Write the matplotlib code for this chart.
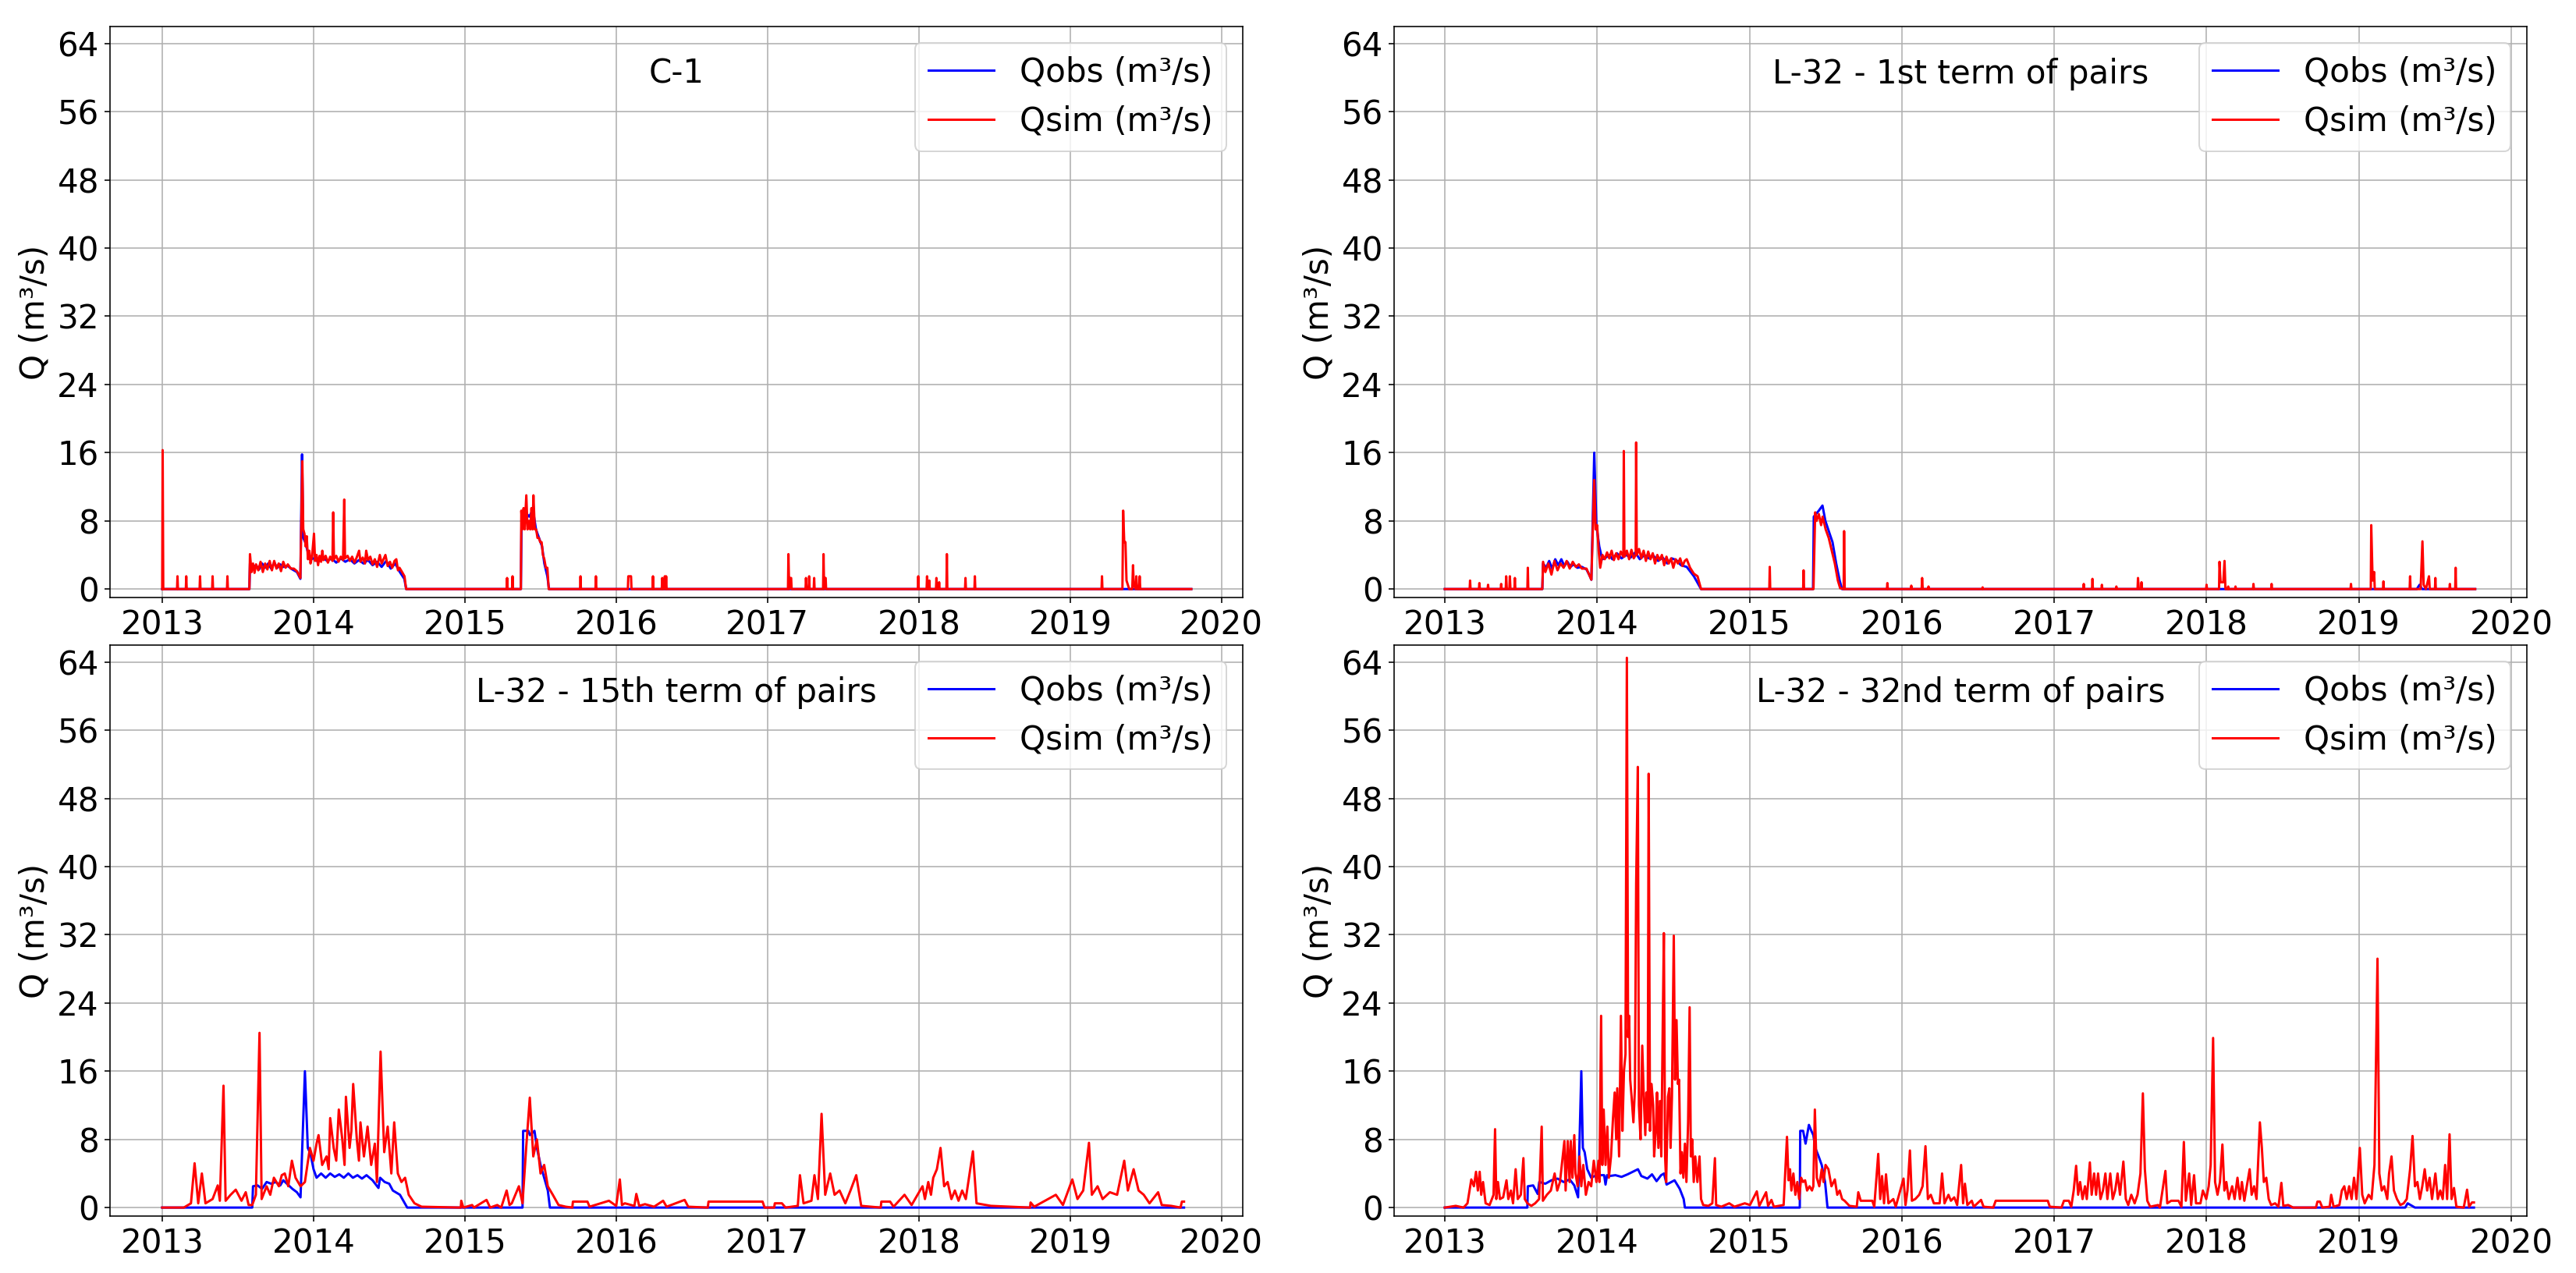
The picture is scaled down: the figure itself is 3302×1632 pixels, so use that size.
import matplotlib
matplotlib.use("Agg")
import matplotlib.pyplot as plt

# Daily discharge as (decimal year, Q m3/s) break points

c1_obs = [(2013.000, 0), (2013.576, 0), (2013.580, 3.0), (2013.600, 2.5), (2013.620, 2.8), (2013.640, 2.3),
          (2013.660, 3.0), (2013.680, 2.5), (2013.700, 3.0), (2013.720, 2.4), (2013.740, 3.1), (2013.760, 2.5),
          (2013.780, 2.9), (2013.800, 2.6), (2013.830, 2.7), (2013.860, 2.3), (2013.890, 2.0), (2013.913, 1.2),
          (2013.924, 15.8), (2013.932, 6.0), (2013.945, 5.5), (2013.960, 4.5), (2013.980, 3.5), (2014.000, 3.6),
          (2014.030, 3.2), (2014.060, 3.7), (2014.090, 3.3), (2014.120, 3.6), (2014.150, 3.1), (2014.180, 3.6),
          (2014.210, 3.2), (2014.240, 3.5), (2014.270, 3.0), (2014.300, 3.4), (2014.330, 3.0), (2014.360, 3.4),
          (2014.390, 2.8), (2014.420, 3.2), (2014.450, 2.6), (2014.480, 3.3), (2014.510, 2.4), (2014.540, 3.0),
          (2014.570, 2.0), (2014.600, 1.2), (2014.612, 0),
          (2015.370, 0), (2015.375, 8.5), (2015.400, 9.0), (2015.425, 8.5), (2015.450, 9.3), (2015.470, 7.0),
          (2015.490, 6.0), (2015.510, 5.0), (2015.525, 3.0), (2015.545, 1.5), (2015.556, 0), (2019.800, 0)]

c1_sim = [(2013.000, 0), (2013.003, 16.3), (2013.007, 0),
          (2013.098, 0), (2013.101, 1.5), (2013.104, 0), (2013.156, 0), (2013.159, 1.5), (2013.162, 0),
          (2013.247, 0), (2013.250, 1.5), (2013.253, 0), (2013.330, 0), (2013.333, 1.5), (2013.336, 0),
          (2013.428, 0), (2013.431, 1.5), (2013.434, 0),
          (2013.576, 0), (2013.580, 4.1), (2013.590, 2.0), (2013.600, 3.0), (2013.610, 1.9), (2013.620, 2.9),
          (2013.635, 2.2), (2013.650, 3.2), (2013.665, 2.0), (2013.680, 3.0), (2013.695, 2.3), (2013.710, 3.3),
          (2013.725, 2.2), (2013.740, 3.3), (2013.755, 2.4), (2013.770, 3.0), (2013.785, 2.1), (2013.800, 3.2),
          (2013.815, 2.5), (2013.830, 2.9), (2013.850, 2.4), (2013.870, 2.4), (2013.890, 2.1), (2013.905, 1.6),
          (2013.913, 1.3), (2013.926, 15.0), (2013.932, 7.0), (2013.940, 6.5), (2013.948, 5.0), (2013.955, 6.2),
          (2013.963, 3.5), (2013.972, 4.5), (2013.980, 3.0), (2013.990, 3.8), (2014.003, 6.5), (2014.010, 3.3),
          (2014.020, 4.0), (2014.030, 2.8), (2014.040, 3.9), (2014.050, 3.2), (2014.058, 4.5), (2014.066, 3.4),
          (2014.080, 3.9), (2014.095, 3.1), (2014.110, 3.8), (2014.125, 3.3), (2014.130, 9.0), (2014.135, 3.5),
          (2014.150, 3.9), (2014.165, 3.2), (2014.180, 3.8), (2014.195, 3.4), (2014.203, 10.5), (2014.208, 3.6),
          (2014.225, 3.9), (2014.240, 3.3), (2014.255, 3.8), (2014.270, 3.1), (2014.285, 3.7), (2014.301, 4.5),
          (2014.310, 3.2), (2014.325, 3.7), (2014.340, 3.0), (2014.348, 4.5), (2014.360, 3.4), (2014.375, 3.8),
          (2014.390, 2.9), (2014.405, 3.5), (2014.420, 2.6), (2014.438, 4.0), (2014.450, 3.0), (2014.465, 3.6),
          (2014.475, 4.0), (2014.490, 2.7), (2014.505, 3.2), (2014.520, 2.5), (2014.535, 3.3), (2014.547, 3.5),
          (2014.558, 2.2), (2014.568, 2.5), (2014.585, 2.0), (2014.601, 1.5), (2014.612, 0),
          (2015.276, 0), (2015.279, 1.3), (2015.282, 0), (2015.312, 0), (2015.315, 1.5), (2015.318, 0),
          (2015.370, 0), (2015.373, 9.2), (2015.380, 7.0), (2015.388, 9.5), (2015.395, 7.0), (2015.406, 11.0),
          (2015.414, 7.0), (2015.424, 8.0), (2015.432, 7.0), (2015.440, 9.5), (2015.447, 7.0), (2015.453, 11.0),
          (2015.462, 7.0), (2015.471, 7.0), (2015.480, 6.0), (2015.489, 6.0), (2015.498, 5.5), (2015.507, 5.5),
          (2015.516, 4.0), (2015.525, 3.5), (2015.535, 2.5), (2015.545, 2.5), (2015.554, 0),
          (2015.761, 0), (2015.764, 1.5), (2015.767, 0), (2015.863, 0), (2015.866, 1.5), (2015.869, 0),
          (2016.077, 0), (2016.080, 1.5), (2016.089, 1.5), (2016.098, 1.5), (2016.101, 0),
          (2016.240, 0), (2016.243, 1.5), (2016.246, 0), (2016.301, 0), (2016.304, 1.3), (2016.307, 0),
          (2016.318, 0), (2016.321, 1.5), (2016.327, 0), (2016.330, 1.5), (2016.333, 0),
          (2017.135, 0), (2017.138, 4.1), (2017.143, 0), (2017.148, 1.3), (2017.156, 1.3), (2017.159, 0),
          (2017.251, 0), (2017.254, 1.3), (2017.258, 0), (2017.272, 0), (2017.275, 1.5), (2017.278, 0),
          (2017.305, 0), (2017.308, 1.3), (2017.311, 0),
          (2017.367, 0), (2017.370, 4.1), (2017.374, 0), (2017.380, 1.3), (2017.384, 1.3), (2017.387, 0),
          (2017.993, 0), (2017.996, 1.5), (2017.999, 0), (2018.051, 0), (2018.054, 1.5), (2018.058, 0),
          (2018.066, 0), (2018.069, 1.0), (2018.072, 0), (2018.113, 0), (2018.116, 1.3), (2018.119, 0),
          (2018.131, 0), (2018.134, 0.8), (2018.137, 0), (2018.182, 0), (2018.185, 4.1), (2018.188, 0),
          (2018.305, 0), (2018.308, 1.3), (2018.311, 0), (2018.367, 0), (2018.370, 1.5), (2018.373, 0),
          (2019.207, 0), (2019.210, 1.5), (2019.213, 0), (2019.345, 0), (2019.350, 9.2), (2019.357, 5.5),
          (2019.365, 5.5), (2019.372, 1.0), (2019.390, 0), (2019.410, 0), (2019.415, 2.8), (2019.420, 0.5),
          (2019.432, 0), (2019.437, 1.5), (2019.442, 0), (2019.455, 0), (2019.459, 1.5), (2019.463, 0),
          (2019.800, 0)]

l32_1_obs = [(2013.000, 0), (2013.640, 0), (2013.645, 3.0), (2013.665, 2.5), (2013.685, 3.3), (2013.705, 2.4),
             (2013.725, 3.5), (2013.745, 2.8), (2013.765, 3.5), (2013.785, 2.7), (2013.805, 3.2), (2013.825, 2.6),
             (2013.845, 2.9), (2013.870, 2.5), (2013.900, 2.6), (2013.930, 2.3), (2013.950, 1.6), (2013.962, 1.1),
             (2013.981, 16.0), (2013.995, 7.5), (2014.014, 5.0), (2014.033, 3.5), (2014.050, 3.6), (2014.080, 4.0),
             (2014.100, 3.5), (2014.130, 4.2), (2014.160, 3.6), (2014.190, 4.0), (2014.220, 3.7), (2014.250, 4.3),
             (2014.280, 3.5), (2014.310, 4.0), (2014.340, 3.6), (2014.370, 3.9), (2014.400, 3.3), (2014.430, 3.7),
             (2014.460, 3.0), (2014.490, 3.6), (2014.520, 3.4), (2014.550, 2.8), (2014.588, 2.6), (2014.635, 1.5),
             (2014.682, 0),
             (2015.417, 0), (2015.422, 8.5), (2015.455, 9.2), (2015.479, 9.8), (2015.498, 8.0), (2015.526, 6.5),
             (2015.545, 5.5), (2015.569, 3.0), (2015.592, 1.0), (2015.607, 0),
             (2019.380, 0), (2019.398, 0.5), (2019.415, 0), (2019.763, 0)]

l32_1_sim = [(2013.000, 0), (2013.163, 0), (2013.166, 1.0), (2013.169, 0), (2013.224, 0), (2013.227, 0.7),
             (2013.230, 0), (2013.281, 0), (2013.284, 0.5), (2013.287, 0), (2013.367, 0), (2013.370, 0.6),
             (2013.373, 0), (2013.400, 0), (2013.403, 1.5), (2013.407, 0), (2013.424, 0), (2013.427, 1.5),
             (2013.431, 0), (2013.457, 0), (2013.460, 1.3), (2013.463, 0), (2013.542, 0), (2013.545, 2.5),
             (2013.548, 0),
             (2013.640, 0), (2013.645, 3.2), (2013.660, 2.0), (2013.680, 3.0), (2013.700, 1.7), (2013.720, 3.3),
             (2013.740, 2.2), (2013.760, 3.0), (2013.780, 2.5), (2013.800, 3.3), (2013.820, 2.4), (2013.840, 3.2),
             (2013.860, 2.6), (2013.880, 2.9), (2013.900, 2.4), (2013.930, 2.4), (2013.950, 1.6), (2013.962, 1.1),
             (2013.981, 12.8), (2013.990, 7.0), (2014.000, 7.5), (2014.010, 4.5), (2014.020, 2.5), (2014.035, 4.0),
             (2014.050, 3.5), (2014.065, 4.3), (2014.080, 3.6), (2014.095, 4.5), (2014.110, 3.4), (2014.125, 4.2),
             (2014.140, 3.5), (2014.155, 4.4), (2014.172, 3.8), (2014.175, 16.2), (2014.179, 3.8), (2014.195, 4.5),
             (2014.210, 3.5), (2014.225, 4.6), (2014.240, 3.6), (2014.253, 4.0), (2014.256, 17.2), (2014.260, 4.0),
             (2014.275, 4.7), (2014.290, 3.6), (2014.305, 4.5), (2014.320, 3.3), (2014.335, 4.4), (2014.350, 3.5),
             (2014.365, 4.2), (2014.380, 3.0), (2014.395, 4.0), (2014.410, 3.4), (2014.425, 4.0), (2014.440, 2.8),
             (2014.455, 3.8), (2014.470, 3.0), (2014.485, 3.6), (2014.500, 2.5), (2014.515, 3.5), (2014.530, 3.0),
             (2014.545, 3.6), (2014.560, 2.7), (2014.575, 3.3), (2014.588, 3.5), (2014.610, 2.5), (2014.635, 1.8),
             (2014.659, 1.5), (2014.682, 0),
             (2015.130, 0), (2015.133, 2.6), (2015.136, 0), (2015.352, 0), (2015.355, 2.2), (2015.358, 0),
             (2015.420, 0), (2015.431, 9.0), (2015.440, 8.0), (2015.455, 8.8), (2015.470, 7.5), (2015.480, 8.5),
             (2015.500, 7.0), (2015.520, 6.0), (2015.540, 4.5), (2015.560, 3.0), (2015.580, 1.0), (2015.595, 0.1),
             (2015.618, 0), (2015.621, 6.8), (2015.625, 0),
             (2015.902, 0), (2015.905, 0.7), (2015.908, 0), (2016.059, 0), (2016.062, 0.4), (2016.065, 0),
             (2016.130, 0), (2016.133, 1.3), (2016.137, 0), (2016.172, 0), (2016.175, 0.3), (2016.178, 0),
             (2016.527, 0), (2016.530, 0.2), (2016.533, 0),
             (2017.191, 0), (2017.194, 0.6), (2017.197, 0), (2017.248, 0), (2017.251, 1.2), (2017.254, 0),
             (2017.310, 0), (2017.313, 0.5), (2017.316, 0), (2017.405, 0), (2017.408, 0.3), (2017.411, 0),
             (2017.547, 0), (2017.550, 1.3), (2017.555, 0), (2017.570, 0), (2017.573, 0.8), (2017.576, 0),
             (2017.997, 0), (2018.000, 0.5), (2018.003, 0), (2018.082, 0), (2018.085, 3.2), (2018.092, 0.8),
             (2018.110, 0.8), (2018.118, 3.3), (2018.124, 0), (2018.139, 0), (2018.142, 0.3), (2018.145, 0),
             (2018.187, 0), (2018.190, 0.3), (2018.193, 0), (2018.305, 0), (2018.308, 0.6), (2018.311, 0),
             (2018.424, 0), (2018.427, 0.6), (2018.430, 0),
             (2018.945, 0), (2018.948, 0.6), (2018.951, 0), (2019.078, 0), (2019.081, 7.5), (2019.090, 1.0),
             (2019.100, 2.0), (2019.104, 0), (2019.158, 0), (2019.161, 0.9), (2019.164, 0), (2019.333, 0),
             (2019.336, 1.5), (2019.339, 0), (2019.405, 0), (2019.417, 5.6), (2019.425, 0.5), (2019.440, 0),
             (2019.460, 1.5), (2019.465, 0), (2019.499, 0), (2019.502, 1.3), (2019.505, 0), (2019.594, 0),
             (2019.597, 0.6), (2019.600, 0), (2019.632, 0), (2019.635, 2.5), (2019.638, 0), (2019.763, 0)]

l32_15_obs = [(2013.000, 0), (2013.595, 0), (2013.600, 2.5), (2013.630, 2.6), (2013.660, 2.2), (2013.690, 3.0),
              (2013.720, 2.8), (2013.750, 3.0), (2013.780, 2.6), (2013.800, 3.2), (2013.830, 2.7), (2013.860, 2.2),
              (2013.890, 1.8), (2013.914, 1.2), (2013.943, 16.0), (2013.962, 7.0), (2013.980, 6.3), (2014.000, 4.5),
              (2014.020, 3.5), (2014.050, 4.0), (2014.080, 3.5), (2014.110, 4.0), (2014.140, 3.6), (2014.170, 3.9),
              (2014.200, 3.5), (2014.230, 4.0), (2014.260, 3.5), (2014.290, 3.8), (2014.320, 3.4), (2014.350, 3.8),
              (2014.390, 3.2), (2014.429, 2.3), (2014.440, 3.5), (2014.470, 3.0), (2014.500, 2.8), (2014.524, 2.0),
              (2014.571, 1.5), (2014.619, 0),
              (2015.381, 0), (2015.385, 9.0), (2015.420, 9.0), (2015.430, 8.5), (2015.460, 9.0), (2015.476, 7.0),
              (2015.500, 5.0), (2015.524, 3.5), (2015.548, 2.0), (2015.562, 0), (2019.752, 0)]

l32_15_sim = [(2013.000, 0), (2013.143, 0), (2013.190, 0.5), (2013.214, 5.2), (2013.238, 0.5), (2013.262, 4.0),
              (2013.286, 0.5), (2013.333, 1.0), (2013.367, 2.6), (2013.381, 0.8), (2013.405, 14.3), (2013.419, 0.8),
              (2013.452, 1.5), (2013.486, 2.1), (2013.524, 0.8), (2013.552, 1.8), (2013.571, 0.3), (2013.595, 0.3),
              (2013.619, 1.5), (2013.643, 20.5), (2013.657, 1.0), (2013.690, 2.5), (2013.714, 1.5), (2013.738, 3.5),
              (2013.771, 2.5), (2013.790, 3.8), (2013.810, 4.0), (2013.833, 2.5), (2013.857, 5.5), (2013.881, 3.5),
              (2013.914, 2.5), (2013.943, 3.0), (2013.976, 7.0), (2014.000, 5.5), (2014.020, 7.5), (2014.033, 8.5),
              (2014.057, 5.0), (2014.086, 6.0), (2014.100, 4.5), (2014.110, 10.5), (2014.133, 7.0), (2014.150, 5.5),
              (2014.167, 11.5), (2014.190, 8.0), (2014.205, 5.0), (2014.214, 13.0), (2014.238, 7.0), (2014.250, 9.0),
              (2014.262, 14.5), (2014.286, 8.0), (2014.300, 5.5), (2014.310, 10.0), (2014.333, 6.0), (2014.357, 9.5),
              (2014.381, 5.0), (2014.405, 7.5), (2014.419, 3.0), (2014.443, 18.3), (2014.467, 6.5), (2014.490, 9.5),
              (2014.514, 4.0), (2014.533, 10.0), (2014.557, 4.0), (2014.581, 3.0), (2014.605, 3.5), (2014.629, 1.5),
              (2014.667, 0.5), (2014.714, 0.1),
              (2014.973, 0), (2014.976, 0.8), (2014.990, 0), (2015.048, 0.3), (2015.060, 0), (2015.143, 0.9),
              (2015.167, 0), (2015.214, 0.3), (2015.240, 0), (2015.276, 2.0), (2015.295, 0.3), (2015.310, 0.5),
              (2015.357, 2.5), (2015.381, 0.5), (2015.405, 7.0), (2015.429, 12.9), (2015.452, 6.0), (2015.476, 8.0),
              (2015.500, 4.0), (2015.524, 5.0), (2015.548, 2.5), (2015.581, 1.5), (2015.619, 0.3), (2015.667, 0.1),
              (2015.710, 0), (2015.714, 0.7), (2015.810, 0.7), (2015.824, 0.1), (2015.952, 0.8), (2016.000, 0.2),
              (2016.024, 3.3), (2016.038, 0.3), (2016.057, 0.5), (2016.120, 0.2), (2016.133, 1.6), (2016.152, 0.2),
              (2016.190, 0.4), (2016.250, 0.1), (2016.310, 0.8), (2016.333, 0.1), (2016.452, 0.9), (2016.476, 0.1),
              (2016.605, 0), (2016.610, 0.7), (2016.967, 0.7), (2016.981, 0), (2017.044, 0), (2017.048, 0.5),
              (2017.095, 0.5), (2017.119, 0), (2017.200, 0.2), (2017.214, 3.8), (2017.238, 0.5), (2017.290, 0.8),
              (2017.310, 3.8), (2017.333, 1.0), (2017.357, 11.0), (2017.381, 1.5), (2017.414, 4.0), (2017.443, 1.5),
              (2017.476, 2.0), (2017.514, 0.5), (2017.548, 2.0), (2017.586, 3.8), (2017.619, 0.2), (2017.748, 0),
              (2017.752, 0.7), (2017.810, 0.7), (2017.833, 0.1), (2017.905, 1.5), (2017.952, 0.3), (2018.024, 2.5),
              (2018.040, 1.0), (2018.062, 3.0), (2018.080, 1.5), (2018.095, 3.5), (2018.119, 4.5), (2018.143, 7.0),
              (2018.167, 2.5), (2018.190, 3.0), (2018.215, 1.0), (2018.238, 2.0), (2018.262, 0.8), (2018.286, 2.0),
              (2018.310, 1.0), (2018.357, 6.6), (2018.381, 0.5), (2018.476, 0.2), (2018.735, 0), (2018.738, 0.6),
              (2018.762, 0.1), (2018.905, 1.5), (2018.952, 0.3), (2019.014, 3.3), (2019.048, 1.0), (2019.086, 2.0),
              (2019.124, 7.6), (2019.143, 1.5), (2019.181, 2.5), (2019.214, 1.0), (2019.262, 1.8), (2019.310, 1.5),
              (2019.357, 5.5), (2019.381, 2.0), (2019.419, 4.5), (2019.452, 2.0), (2019.486, 1.5), (2019.524, 0.5),
              (2019.581, 1.8), (2019.605, 0.3), (2019.667, 0.2), (2019.729, 0), (2019.738, 0.7), (2019.752, 0.7)]

l32_32_obs = [(2013.000, 0), (2013.542, 0), (2013.545, 2.5), (2013.580, 2.6), (2013.610, 1.6), (2013.620, 3.0),
              (2013.660, 2.8), (2013.700, 3.2), (2013.740, 3.4), (2013.780, 3.0), (2013.820, 3.3), (2013.850, 2.6),
              (2013.875, 1.2), (2013.896, 16.0), (2013.906, 7.0), (2013.918, 6.5), (2013.935, 4.5), (2013.961, 3.5),
              (2013.995, 3.8), (2014.046, 3.8), (2014.055, 2.7), (2014.065, 3.8), (2014.080, 3.7), (2014.120, 3.8),
              (2014.160, 3.6), (2014.200, 3.9), (2014.268, 4.5), (2014.290, 3.7), (2014.330, 3.4), (2014.360, 3.9),
              (2014.390, 3.1), (2014.420, 3.8), (2014.439, 4.0), (2014.456, 2.7), (2014.508, 3.2), (2014.542, 2.2),
              (2014.568, 1.0), (2014.576, 0),
              (2015.330, 0), (2015.333, 9.0), (2015.352, 9.0), (2015.368, 7.5), (2015.390, 9.7), (2015.406, 9.0),
              (2015.419, 8.5), (2015.432, 7.0), (2015.454, 6.0), (2015.474, 5.0), (2015.496, 3.0), (2015.512, 0),
              (2019.304, 0), (2019.320, 0.5), (2019.368, 0), (2019.755, 0)]

l32_32_sim = [(2013.000, 0), (2013.072, 0.2), (2013.123, 0), (2013.149, 0.5), (2013.174, 3.3), (2013.191, 2.5),
              (2013.205, 4.2), (2013.217, 2.0), (2013.229, 4.2), (2013.239, 1.5), (2013.251, 3.0), (2013.268, 0.5),
              (2013.294, 0.3), (2013.320, 1.5), (2013.330, 9.2), (2013.338, 1.0), (2013.349, 3.0), (2013.362, 1.0),
              (2013.383, 1.2), (2013.405, 3.2), (2013.417, 1.0), (2013.434, 2.0), (2013.448, 0.5), (2013.465, 4.5),
              (2013.479, 1.0), (2013.499, 1.5), (2013.516, 5.8), (2013.525, 1.0), (2013.542, 0.5), (2013.568, 0.2),
              (2013.593, 0.5), (2013.619, 1.0), (2013.636, 9.5), (2013.644, 0.8), (2013.670, 1.5), (2013.696, 2.0),
              (2013.721, 4.0), (2013.738, 2.0), (2013.756, 3.0), (2013.785, 7.8), (2013.793, 2.0), (2013.807, 7.8),
              (2013.819, 3.0), (2013.827, 7.8), (2013.838, 3.5), (2013.850, 8.5), (2013.858, 4.0), (2013.872, 2.5),
              (2013.884, 6.0), (2013.896, 2.5), (2013.909, 5.0), (2013.926, 1.5), (2013.944, 3.0), (2013.961, 2.5),
              (2013.978, 5.5), (2013.995, 3.0), (2014.009, 5.5), (2014.015, 3.0), (2014.026, 22.5), (2014.034, 5.0),
              (2014.043, 11.5), (2014.055, 5.0), (2014.067, 9.5), (2014.077, 3.5), (2014.091, 6.0), (2014.104, 10.5),
              (2014.115, 13.5), (2014.125, 8.0), (2014.132, 14.0), (2014.144, 6.0), (2014.156, 22.5), (2014.166, 9.0),
              (2014.176, 16.0), (2014.186, 18.0), (2014.195, 64.5), (2014.203, 20.0), (2014.210, 22.5), (2014.217, 15.0),
              (2014.226, 13.0), (2014.238, 10.0), (2014.248, 14.0), (2014.256, 38.0), (2014.267, 51.7), (2014.274, 12.0),
              (2014.285, 8.0), (2014.296, 19.0), (2014.306, 13.0), (2014.316, 8.5), (2014.323, 13.5), (2014.332, 10.0),
              (2014.338, 50.9), (2014.347, 9.0), (2014.357, 14.5), (2014.368, 12.0), (2014.374, 6.0), (2014.385, 9.0),
              (2014.393, 13.5), (2014.402, 7.0), (2014.412, 12.5), (2014.421, 6.0), (2014.431, 22.0), (2014.438, 32.2),
              (2014.446, 6.0), (2014.453, 3.0), (2014.465, 13.0), (2014.474, 14.0), (2014.482, 7.0), (2014.491, 13.0),
              (2014.503, 31.9), (2014.511, 15.0), (2014.521, 22.0), (2014.530, 14.5), (2014.538, 15.0), (2014.547, 4.0),
              (2014.556, 6.5), (2014.566, 3.5), (2014.576, 7.5), (2014.586, 3.0), (2014.597, 10.0), (2014.607, 23.5),
              (2014.615, 6.0), (2014.624, 8.0), (2014.634, 3.0), (2014.644, 6.0), (2014.658, 3.0), (2014.672, 6.0),
              (2014.682, 1.0), (2014.696, 0.3), (2014.730, 0.2), (2014.756, 0.5), (2014.773, 5.8), (2014.781, 0.3),
              (2014.815, 0.1), (2014.867, 0.5), (2014.901, 0.1), (2014.969, 0.5), (2015.003, 0.3), (2015.048, 1.9),
              (2015.064, 0.2), (2015.109, 1.8), (2015.122, 0.2), (2015.144, 0.9), (2015.160, 0.1), (2015.224, 0.3),
              (2015.246, 8.3), (2015.256, 3.2), (2015.266, 4.5), (2015.275, 2.0), (2015.288, 4.0), (2015.301, 1.5),
              (2015.314, 3.0), (2015.326, 1.0), (2015.339, 3.5), (2015.352, 3.0), (2015.365, 3.2), (2015.378, 2.0),
              (2015.394, 2.5), (2015.410, 2.0), (2015.419, 2.5), (2015.429, 11.5), (2015.442, 3.5), (2015.458, 2.5),
              (2015.474, 4.5), (2015.486, 3.0), (2015.499, 5.0), (2015.518, 4.5), (2015.538, 2.5), (2015.560, 3.3),
              (2015.576, 1.5), (2015.592, 2.0), (2015.608, 1.0), (2015.624, 0.8), (2015.656, 0.2), (2015.704, 0.1),
              (2015.714, 1.8), (2015.730, 0.8), (2015.806, 0.8), (2015.819, 0.1), (2015.845, 6.3), (2015.858, 1.0),
              (2015.870, 3.7), (2015.883, 0.5), (2015.896, 3.9), (2015.912, 0.5), (2015.944, 1.0), (2015.960, 0.1),
              (2016.011, 3.4), (2016.024, 0.3), (2016.037, 2.0), (2016.053, 6.7), (2016.066, 0.8), (2016.088, 1.0),
              (2016.114, 1.5), (2016.136, 2.5), (2016.155, 7.2), (2016.171, 1.0), (2016.190, 1.5), (2016.210, 0.5),
              (2016.248, 0.5), (2016.264, 4.0), (2016.280, 0.5), (2016.306, 1.5), (2016.322, 0.8), (2016.344, 1.2),
              (2016.363, 0.3), (2016.389, 5.0), (2016.402, 0.5), (2016.414, 2.8), (2016.430, 0.3), (2016.459, 0.8),
              (2016.472, 0.1), (2016.520, 0.9), (2016.536, 0.1), (2016.600, 0), (2016.616, 0.8), (2016.958, 0.8),
              (2016.971, 0.1), (2017.048, 0), (2017.064, 0.8), (2017.096, 0.8), (2017.112, 0.1), (2017.128, 2.0),
              (2017.144, 4.9), (2017.157, 1.5), (2017.170, 3.0), (2017.186, 1.0), (2017.202, 2.5), (2017.214, 1.0),
              (2017.234, 5.3), (2017.246, 1.5), (2017.262, 4.0), (2017.275, 1.5), (2017.288, 4.0), (2017.304, 1.0),
              (2017.320, 2.0), (2017.336, 4.0), (2017.349, 1.0), (2017.368, 4.0), (2017.384, 1.0), (2017.400, 2.0),
              (2017.416, 4.0), (2017.432, 1.5), (2017.454, 5.4), (2017.470, 1.0), (2017.486, 0.3), (2017.506, 1.5),
              (2017.528, 0.5), (2017.547, 1.5), (2017.566, 4.0), (2017.582, 13.4), (2017.595, 4.5), (2017.611, 0.8),
              (2017.630, 0.1), (2017.682, 0.3), (2017.694, 0), (2017.730, 4.3), (2017.742, 0.5), (2017.768, 0.8),
              (2017.816, 0.8), (2017.835, 0.1), (2017.851, 7.7), (2017.864, 0.8), (2017.886, 4.0), (2017.899, 0.3),
              (2017.918, 3.8), (2017.931, 0.5), (2017.960, 0.5), (2017.976, 2.0), (2017.998, 1.0), (2018.014, 2.5),
              (2018.027, 5.0), (2018.043, 19.9), (2018.056, 3.0), (2018.072, 1.5), (2018.088, 3.0), (2018.104, 7.4),
              (2018.117, 2.0), (2018.130, 3.0), (2018.146, 1.0), (2018.168, 2.5), (2018.184, 1.0), (2018.203, 3.5),
              (2018.219, 1.0), (2018.232, 3.0), (2018.248, 0.8), (2018.264, 2.5), (2018.283, 4.5), (2018.296, 1.5),
              (2018.312, 2.5), (2018.328, 1.0), (2018.350, 10.0), (2018.363, 7.0), (2018.376, 3.0), (2018.392, 3.5),
              (2018.408, 1.0), (2018.424, 0.3), (2018.450, 0.5), (2018.472, 0.1), (2018.491, 2.9), (2018.504, 0.2),
              (2018.536, 0.3), (2018.568, 0), (2018.718, 0), (2018.728, 0.7), (2018.744, 0.7), (2018.760, 0),
              (2018.808, 0.1), (2018.818, 1.5), (2018.834, 0.1), (2018.872, 0.3), (2018.888, 2.0), (2018.904, 2.5),
              (2018.920, 1.0), (2018.936, 2.5), (2018.952, 1.0), (2018.968, 3.5), (2018.984, 1.0), (2019.006, 7.0),
              (2019.022, 1.5), (2019.038, 0.5), (2019.064, 1.5), (2019.083, 1.0), (2019.102, 5.0), (2019.122, 29.2),
              (2019.134, 4.0), (2019.150, 2.0), (2019.166, 2.5), (2019.186, 1.0), (2019.198, 4.0), (2019.214, 6.0),
              (2019.230, 2.0), (2019.250, 1.0), (2019.272, 0.3), (2019.294, 0.5), (2019.314, 1.0), (2019.336, 4.5),
              (2019.352, 8.4), (2019.368, 2.5), (2019.384, 3.0), (2019.400, 1.0), (2019.416, 2.5), (2019.432, 4.5),
              (2019.448, 2.0), (2019.464, 3.5), (2019.480, 1.0), (2019.502, 4.0), (2019.518, 1.0), (2019.534, 2.0),
              (2019.550, 1.0), (2019.566, 5.0), (2019.579, 1.0), (2019.595, 8.6), (2019.608, 1.0), (2019.624, 2.3),
              (2019.640, 0.1), (2019.688, 0), (2019.710, 2.1), (2019.723, 0.1), (2019.742, 0.6), (2019.755, 0.6)]

panel_names = ["C-1", "L-32 - 1st term of pairs", "L-32 - 15th term of pairs", "L-32 - 32nd term of pairs"]
panel_obs = [c1_obs, l32_1_obs, l32_15_obs, l32_32_obs]
panel_sim = [c1_sim, l32_1_sim, l32_15_sim, l32_32_sim]
year_ticks = list(range(2013, 2021))
q_ticks = list(range(0, 65, 8))


def plot_panel(ax, name, obs, sim, xlim):
    """One observed vs simulated hydrograph."""
    t_obs, q_obs = zip(*obs)
    t_sim, q_sim = zip(*sim)
    ax.plot(t_obs, q_obs, color='blue', lw=1.5, label='Qobs (m³/s)')
    ax.plot(t_sim, q_sim, color='red', lw=1.5, label='Qsim (m³/s)')
    ax.set_xlim(*xlim)
    ax.set_ylim(-1, 66)
    ax.set_xticks(year_ticks)
    ax.set_xticklabels([str(y) for y in year_ticks])
    ax.set_yticks(q_ticks)
    ax.set_ylabel('Q (m³/s)')
    ax.grid(True)
    ax.text(0.5, 0.917, name, transform=ax.transAxes, ha='center', va='center')
    ax.legend(loc='upper right')


def main():
    plt.rcParams['font.size'] = 21
    fig, axes = plt.subplots(2, 2, figsize=(3302 / 144, 1632 / 144), dpi=144)
    fig.subplots_adjust(left=0.0427, right=0.9809, top=0.9792, bottom=0.0447,
                        wspace=0.1336, hspace=0.083)
    xlims = [(2012.655, 2020.14), (2012.667, 2020.102)]
    for i, ax in enumerate(axes.flat):
        plot_panel(ax, panel_names[i], panel_obs[i], panel_sim[i], xlims[i % 2])
    fig.savefig('out.png', dpi=144)
    plt.close(fig)


if __name__ == "__main__":
    main()
